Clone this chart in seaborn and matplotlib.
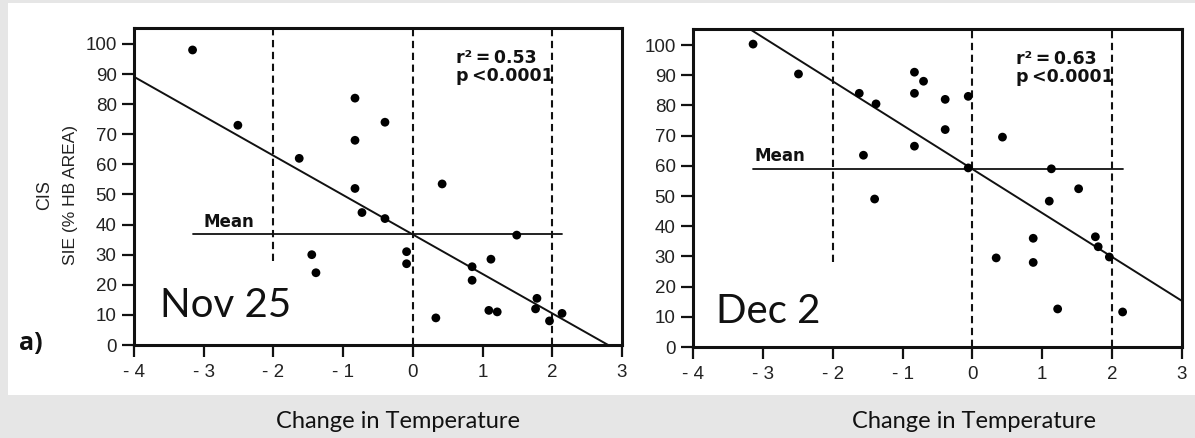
import matplotlib
matplotlib.use("Agg")
import matplotlib.pyplot as plt
from matplotlib.patches import Rectangle
import seaborn as sns
import numpy as np

sns.set_style("white")
plt.rcParams["font.family"] = ["Liberation Sans", "DejaVu Sans"]

# ---- data ----------------------------------------------------------------
# Nov 25: temperature change vs. CIS sea-ice extent (% of Hudson Bay area)
nov_temp = [-3.16, -2.51, -1.63, -1.45, -1.39, -0.83, -0.83, -0.83, -0.73,
            -0.40, -0.40, -0.09, -0.09, 0.33, 0.42, 0.85, 0.85, 1.09, 1.12,
            1.21, 1.49, 1.76, 1.78, 1.96, 2.14]
nov_sie = [98, 73, 62, 30, 24, 82, 68, 52, 44,
           74, 42, 31, 27, 9, 53.5, 26, 21.5, 11.5, 28.5,
           11, 36.5, 12, 15.5, 8, 10.5]

# Dec 2
dec_temp = [-3.14, -2.49, -1.62, -1.38, -1.56, -1.40, -0.83, -0.70, -0.83,
            -0.39, -0.06, -0.39, -0.83, 0.43, -0.06, 1.13, 1.52, 1.10, 0.87,
            0.34, 0.87, 1.76, 1.80, 1.96, 1.22, 2.15]
dec_sie = [100.3, 90.4, 84, 80.5, 63.5, 49, 91, 88, 84,
           82, 83, 72, 66.5, 69.5, 59.3, 59, 52.4, 48.3, 36,
           29.5, 28, 36.5, 33.2, 29.8, 12.6, 11.6]

panel_titles = ["Nov 25", "Dec 2"]
fit_intercept = [36.7, 58.9]
fit_slope = [-13.1, -14.55]
mean_sie = [36.8, 59.0]
r_squared = ["0.53", "0.63"]
p_value = "<0.0001"

x_ticks = [-4, -3, -2, -1, 0, 1, 2, 3]
x_tick_labels = ["- 4", "- 3", "- 2", "- 1", "0", "1", "2", "3"]
y_ticks = list(range(0, 101, 10))

# ---- figure ----------------------------------------------------------------
W, H = 1195, 438
fig = plt.figure(figsize=(W / 100, H / 100), dpi=100)
fig.patch.set_facecolor("#e6e6e6")
fig.patches.append(Rectangle((8 / W, 1 - 395 / H), (W - 8) / W, 392 / H,
                             transform=fig.transFigure, facecolor="white",
                             edgecolor="none", zorder=-10))

axes = [fig.add_axes([134 / W, 1 - 345 / H, 488 / W, 317 / H]),
        fig.add_axes([693 / W, 1 - 347 / H, 489 / W, 318 / H])]

datasets = [(nov_temp, nov_sie), (dec_temp, dec_sie)]
ink = "#111111"
YTOP = 105.3

for i, ax in enumerate(axes):
    xs, ys = datasets[i]
    ax.set_facecolor("none")
    ax.set_xlim(-4, 3)
    ax.set_ylim(0, YTOP)

    # reference dashed lines at -2, 0 and +2 degrees
    dash = dict(color=ink, lw=1.5, linestyle=(0, (3.5, 2.2)), zorder=2)
    ax.plot([-2, -2], [28, YTOP], **dash)
    ax.axvline(0, **dash)
    ax.axvline(2, **dash)

    # mean line across the data range
    ax.plot([min(xs), max(xs)], [mean_sie[i], mean_sie[i]], color=ink,
            lw=1.3, zorder=3)
    ax.text(min(xs) + (0.15 if i == 0 else 0.02), mean_sie[i] + 1.2, "Mean",
            fontsize=12, fontweight="bold", family=["DejaVu Sans"],
            ha="left", va="bottom", color=ink)

    # least-squares fit
    fx = np.array([-4.0, 3.0])
    ax.plot(fx, fit_intercept[i] + fit_slope[i] * fx, color=ink, lw=1.4,
            zorder=3)

    sns.scatterplot(x=xs, y=ys, ax=ax, color="black", s=40,
                    edgecolor="none", legend=False, zorder=4)

    ax.text(0.62, 93.7, "r\u00b2\u2009=\u2009" + r_squared[i], fontsize=12.5,
            fontweight="bold", family=["DejaVu Sans"], ha="left",
            va="baseline", color=ink)
    ax.text(0.62, 87.6, "p\u2009" + p_value, fontsize=12.5,
            fontweight="bold", family=["DejaVu Sans"], ha="left",
            va="baseline", color=ink)

    ax.text(-3.62 if i == 0 else -3.67, 9.3 if i == 0 else 8.0,
            panel_titles[i], fontsize=29, family=["Lato", "DejaVu Sans"],
            ha="left", va="baseline", color=ink)

    ax.set_xticks(x_ticks)
    ax.set_xticklabels(x_tick_labels)
    ax.set_yticks(y_ticks)
    for s in ax.spines.values():
        s.set_visible(True)
        s.set_linewidth(2.2)
        s.set_color(ink)
    ax.tick_params(direction="out", length=8.5, width=1.6, color=ink,
                   labelsize=13.5, labelcolor="#222222", pad=4,
                   bottom=True, left=True)
    ax.tick_params(axis="x", pad=5)

# axis labels and panel tag
fig.text(45 / W, 1 - 195 / H, "CIS", rotation=90, fontsize=13,
         family=["Liberation Sans Narrow", "Liberation Sans"],
         ha="center", va="center", color="#222222")
fig.text(70 / W, 1 - 195 / H, "SIE (% HB AREA)", rotation=90, fontsize=12.5,
         family=["Liberation Sans Narrow", "Liberation Sans"],
         ha="center", va="center", color="#222222")
fig.text(31 / W, 1 - 343 / H, "a)", fontsize=18, fontweight="bold",
         family=["Open Sans", "DejaVu Sans"], ha="center", va="center",
         color=ink)
for cx in (398, 974):
    fig.text(cx / W, 1 - 422 / H, "Change in Temperature", fontsize=17,
             family=["Lato", "DejaVu Sans"], ha="center", va="center",
             color=ink)

fig.savefig("out.png", dpi=100, facecolor=fig.get_facecolor())
